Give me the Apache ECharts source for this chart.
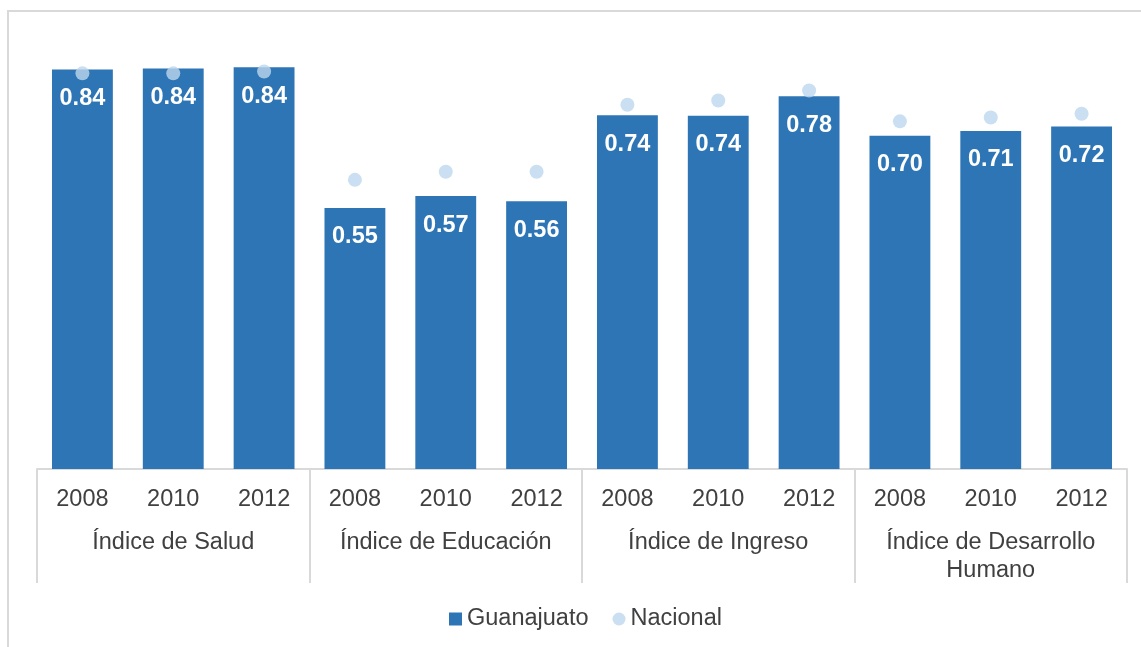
<!DOCTYPE html>
<html>
<head>
<meta charset="utf-8">
<script src="https://cdn.jsdelivr.net/npm/echarts@6/dist/echarts.min.js"></script>
<style>
  html, body { margin: 0; padding: 0; background: #fff; overflow: hidden; }
  #frame { position: absolute; left: 7px; top: 10px; width: 1300px; height: 800px; border: 2px solid #d9d9d9; }
  #main { position: absolute; left: 0; top: 0; width: 1141px; height: 647px; }
</style>
</head>
<body>
<div id="frame"></div>
<div id="main"></div>
<script>
// datos
var years = ['2008', '2010', '2012', '2008', '2010', '2012', '2008', '2010', '2012', '2008', '2010', '2012'];
var groups = ['Índice de Salud', 'Índice de Educación', 'Índice de Ingreso', 'Índice de Desarrollo\nHumano'];
var guanajuato = [0.840, 0.842, 0.845, 0.549, 0.574, 0.563, 0.744, 0.743, 0.784, 0.701, 0.711, 0.720];
var nacional = [0.832, 0.832, 0.836, 0.608, 0.625, 0.625, 0.766, 0.775, 0.796, 0.731, 0.739, 0.747];

var myChart = echarts.init(document.getElementById('main'));
var font = 'Liberation Sans, Arial, sans-serif';
var textColor = '#404040';
var fs = 23.5;

var option = {
    animation: false,
    textStyle: { fontFamily: font },
    grid: { left: 37, right: 14, top: 41, bottom: 178 },
    legend: {
        bottom: 11,
        left: 444,
        itemWidth: 13,
        itemHeight: 13,
        itemGap: 24,
        textStyle: { fontSize: fs, color: textColor, fontFamily: font },
        data: [
            { name: 'Guanajuato', icon: 'rect' },
            { name: 'Nacional', icon: 'circle' }
        ]
    },
    xAxis: [{
        type: 'category',
        data: years,
        position: 'bottom',
        axisLine: { lineStyle: { color: '#d9d9d9', width: 2 } },
        axisTick: { show: false },
        axisLabel: { fontSize: fs, color: textColor, margin: 19, interval: 0 }
    }, {
        type: 'category',
        data: groups,
        position: 'bottom',
        axisLine: { show: false },
        axisTick: { show: true, length: 114, interval: 0, lineStyle: { color: '#d9d9d9', width: 2 } },
        axisLabel: { fontSize: fs, color: textColor, margin: 60, interval: 0, lineHeight: 28 }
    }],
    yAxis: {
        type: 'value',
        min: 0,
        max: 0.9,
        show: false
    },
    series: [{
        name: 'Guanajuato',
        type: 'bar',
        xAxisIndex: 0,
        data: guanajuato,
        barCategoryGap: '33%',
        itemStyle: { color: '#2E75B6' },
        label: {
            show: true,
            position: 'insideTop',
            distance: 17,
            color: '#fff',
            fontWeight: 'bold',
            fontSize: fs,
            formatter: function (p) { return p.value.toFixed(2); }
        }
    }, {
        name: 'Nacional',
        type: 'scatter',
        xAxisIndex: 0,
        data: nacional,
        symbol: 'circle',
        symbolSize: 14,
        itemStyle: { color: '#BDD7EE' },
        z: 3
    }]
};

myChart.setOption(option);
</script>
</body>
</html>
